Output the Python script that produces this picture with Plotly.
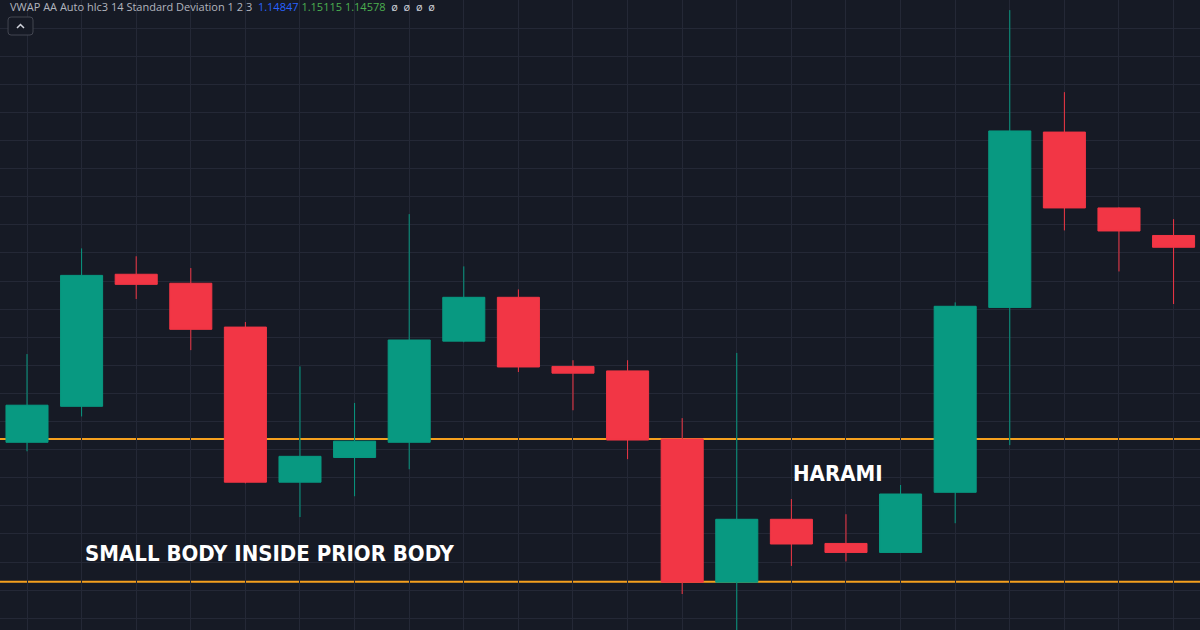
import plotly.graph_objects as go

# candle OHLC (22 bars)
opens = [1.14313, 1.14377, 1.14612, 1.14596, 1.14518, 1.14242, 1.14286, 1.14313,
         1.14493, 1.14571, 1.14448, 1.14440, 1.14319, 1.14064, 1.14176, 1.14133,
         1.14117, 1.14224, 1.14553, 1.14865, 1.14730, 1.14681]
highs = [1.14470, 1.14658, 1.14644, 1.14623, 1.14527, 1.14448, 1.14383, 1.14719,
         1.14626, 1.14585, 1.14459, 1.14459, 1.14356, 1.14472, 1.14212, 1.14185,
         1.14237, 1.14562, 1.15082, 1.14936, 1.14731, 1.14710]
lows = [1.14297, 1.14359, 1.14568, 1.14477, 1.14240, 1.14180, 1.14217, 1.14265,
        1.14491, 1.14438, 1.14370, 1.14283, 1.14043, 1.13968, 1.14093, 1.14101,
        1.14116, 1.14169, 1.14308, 1.14690, 1.14617, 1.14559]
closes = [1.14379, 1.14610, 1.14594, 1.14514, 1.14242, 1.14288, 1.14315, 1.14495,
          1.14571, 1.14447, 1.14436, 1.14317, 1.14064, 1.14176, 1.14132, 1.14117,
          1.14221, 1.14555, 1.14867, 1.14730, 1.14689, 1.14660]
bars = list(range(len(opens)))

# horizontal support levels
levels = [1.14319, 1.14065]

vwap_vals = ["1.14847", "1.15115", "1.14578"]
vwap_cols = ["#2962ff", "#4caf50", "#4caf50"]

BG = "#161a25"
GRID = "#242836"
UP = "#089981"
DOWN = "#f23645"

fig = go.Figure()

fig.add_trace(go.Candlestick(
    x=bars, open=opens, high=highs, low=lows, close=closes,
    increasing={"line": {"color": UP, "width": 1}, "fillcolor": UP},
    decreasing={"line": {"color": DOWN, "width": 1}, "fillcolor": DOWN},
    whiskerwidth=0, showlegend=False, hoverinfo="skip",
))

for lvl in levels:
    fig.add_hline(y=lvl, line={"color": "#f5a01e", "width": 2}, layer="below")

fig.add_annotation(x=4.45, y=1.14116, text="<b>SMALL BODY INSIDE PRIOR BODY</b>",
                   showarrow=False, font={"family": "DejaVu Sans Condensed", "size": 22, "color": "#ffffff"})
fig.add_annotation(x=14.85, y=1.14258, text="<b>HARAMI</b>",
                   showarrow=False, font={"family": "DejaVu Sans Condensed", "size": 22, "color": "#ffffff"})

# indicator header line
header = "VWAP AA Auto hlc3 14 Standard Deviation 1 2 3 "
for v, c in zip(vwap_vals, vwap_cols):
    header += f" <span style='color:{c}'>{v}</span>"
header += " <span style='color:#d1d4dc'> ø  ø  ø  ø</span>"
fig.add_annotation(xref="paper", yref="paper", x=0.0065, y=1.0, xanchor="left", yanchor="top",
                   text=header, showarrow=False, align="left", yshift=3,
                   font={"family": "Open Sans", "size": 11, "color": "#b2b5be"})

# collapse button (rounded box + chevron)
fig.add_shape(type="path", xref="paper", yref="paper",
              path="M 0.0092 0.9730 L 0.0250 0.9730 Q 0.0275 0.9730 0.0275 0.9683 L 0.0275 0.9492 "
                   "Q 0.0275 0.9444 0.0250 0.9444 L 0.0092 0.9444 Q 0.0067 0.9444 0.0067 0.9492 "
                   "L 0.0067 0.9683 Q 0.0067 0.9730 0.0092 0.9730 Z",
              line={"color": "#434651", "width": 1}, fillcolor=BG)
fig.add_shape(type="path", xref="paper", yref="paper",
              path="M 0.01417 0.95556 L 0.01708 0.96111 L 0.02 0.95556",
              line={"color": "#d1d4dc", "width": 1.5})

fig.update_layout(
    width=1200, height=630,
    margin={"l": 0, "r": 0, "t": 0, "b": 0},
    paper_bgcolor=BG, plot_bgcolor=BG,
    boxgap=0.23, boxgroupgap=0,
    xaxis={"range": [-0.4945, 21.484], "tick0": 0, "dtick": 1, "showgrid": True,
           "gridcolor": GRID, "gridwidth": 1, "showticklabels": False, "zeroline": False,
           "rangeslider": {"visible": False}, "fixedrange": True},
    yaxis={"range": [1.13979, 1.15100], "tick0": 1.14, "dtick": 0.0005, "showgrid": True,
           "gridcolor": GRID, "gridwidth": 1, "showticklabels": False, "zeroline": False,
           "fixedrange": True},
)

fig.write_html("out.html", config={"displayModeBar": False},
               post_script="document.body.style.margin='0';document.body.style.background='%s';" % BG)
